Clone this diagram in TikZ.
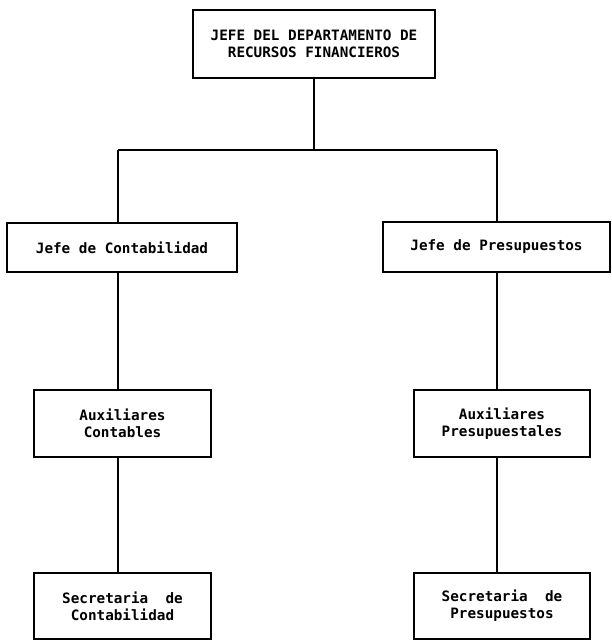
\documentclass[tikz,border=0pt]{standalone}
\usepackage{fontspec}
\newfontfamily\orgfont{DejaVu Sans Mono}
\usetikzlibrary{calc}

\begin{document}
\begin{tikzpicture}[x=1pt,y=-1pt,
    kasten/.style={draw,line width=1.1pt,inner sep=0pt,align=center,
      font={\orgfont\bfseries\fontsize{14.3}{17}\selectfont}},
    linie/.style={line width=1.1pt}]
  \useasboundingbox (0,0) rectangle (612,640);
  % Kaesten
  \node[kasten,minimum width=242,minimum height=68] (jefe) at (314,44)
    {JEFE DEL DEPARTAMENTO DE\\RECURSOS FINANCIEROS};
  \node[kasten,minimum width=230,minimum height=49] (jefeC) at (122,247.5) {Jefe de Contabilidad};
  \node[kasten,minimum width=227,minimum height=50] (jefeP) at (496.5,247) {Jefe de Presupuestos};
  \node[kasten,minimum width=177,minimum height=67] (auxC) at (122.5,423.5) {Auxiliares\\Contables};
  \node[kasten,minimum width=176,minimum height=67] (auxP) at (502,423.5) {Auxiliares\\Presupuestales};
  \node[kasten,minimum width=177,minimum height=66] (secC) at (122.5,606) {Secretaria~ de\\Contabilidad};
  \node[kasten,minimum width=176,minimum height=66] (secP) at (502,606) {Secretaria~ de\\Presupuestos};
  % Verbindungen
  \coordinate (barL) at (118,150);
  \coordinate (barR) at (497,150);
  \draw[linie] (jefe.south) -- (jefe.south |- barL);
  \draw[linie] (barL) -- (barR);
  \draw[linie] (barL) -- (barL |- jefeC.north);
  \draw[linie] (barR) -- (barR |- jefeP.north);
  \draw[linie] (barL |- jefeC.south) -- (barL |- auxC.north);
  \draw[linie] (barR |- jefeP.south) -- (barR |- auxP.north);
  \draw[linie] (barL |- auxC.south) -- (barL |- secC.north);
  \draw[linie] (barR |- auxP.south) -- (barR |- secP.north);
\end{tikzpicture}
\end{document}
